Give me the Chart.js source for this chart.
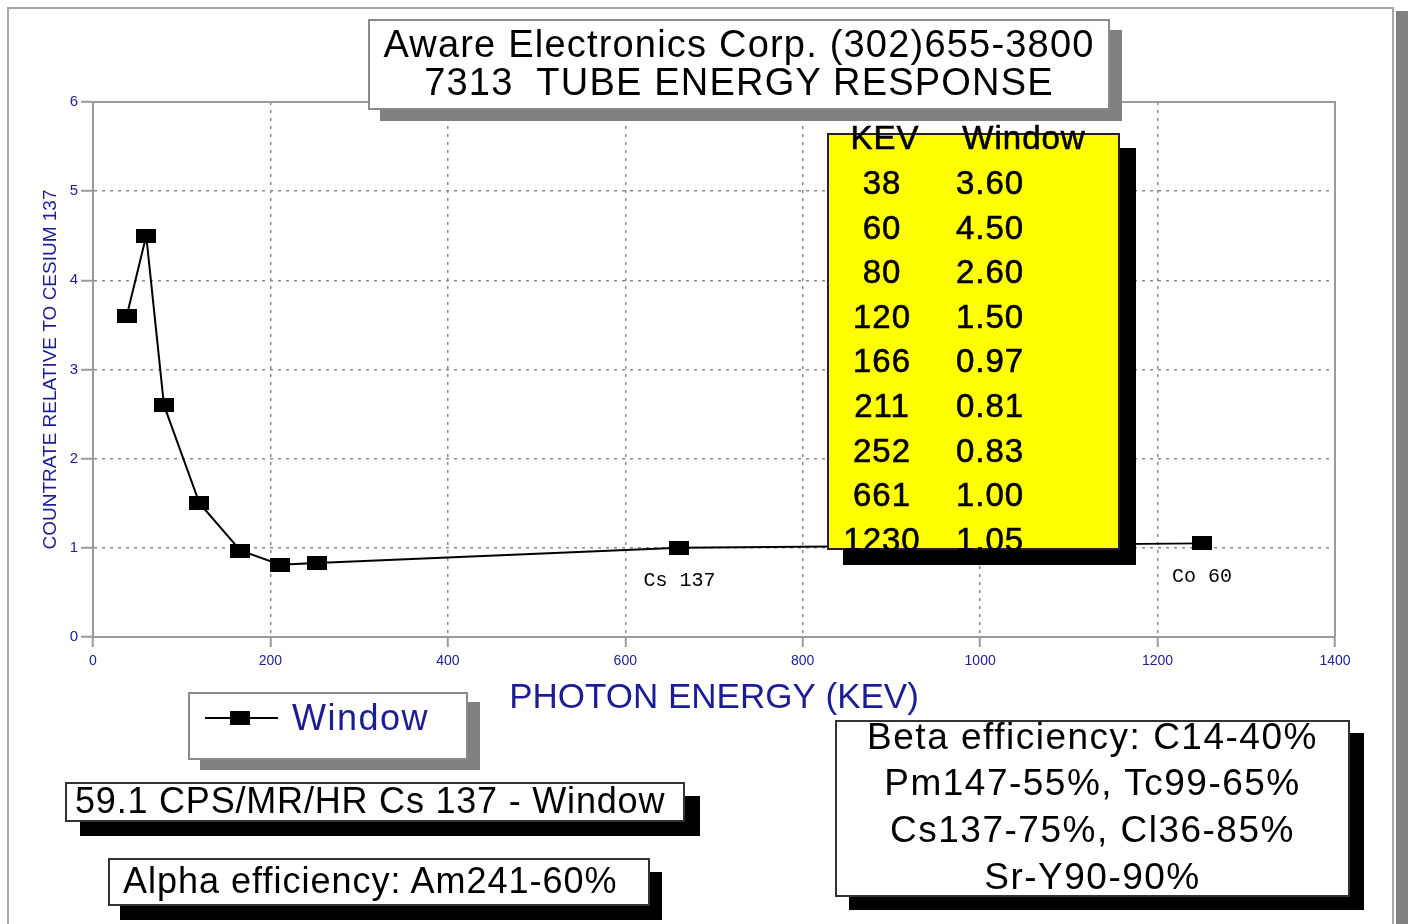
<!DOCTYPE html>
<html>
<head>
<meta charset="utf-8">
<script src="https://cdn.jsdelivr.net/npm/chart.js@4.4.0/dist/chart.umd.min.js"></script>
<style>
  body { margin: 0; width: 1408px; height: 924px; overflow: hidden; position: relative; background: #fff;
         font-family: "Liberation Sans", Arial, sans-serif; color: #000; }
  #frame { position: absolute; left: 7px; top: 7px; width: 1387px; height: 940px; border: 2px solid #a8a8a8; box-sizing: border-box; }
  #frameShadow { position: absolute; left: 1396px; top: 11px; width: 12px; height: 913px; background: #808080; }
  #chart { position: absolute; left: 0; top: 0; }
  .box { position: absolute; background: #fff; box-sizing: border-box; }
  .line { position: absolute; left: 0; right: 0; text-align: center; white-space: nowrap; }
  .cell { position: absolute; width: 140px; text-align: center; white-space: nowrap; }
</style>
</head>
<body>
<div id="frame"></div>
<div id="frameShadow"></div>
<canvas id="chart" width="1408" height="924"></canvas>

<!-- judul -->
<div class="box" style="left:368px;top:19px;width:742px;height:91px;border:2px solid #8a8a8a;box-shadow:12px 11px 0 #808080;font-size:38px;letter-spacing:1.2px;">
  <div class="line" style="top:4px;line-height:38px;">Aware Electronics Corp. (302)655-3800</div>
  <div class="line" style="top:42px;line-height:38px;">7313&nbsp; TUBE ENERGY RESPONSE</div>
</div>

<!-- tabel kuning -->
<div class="box" id="table" style="left:827px;top:133px;width:293px;height:417px;background:#ffff00;border:2px solid #222;box-shadow:16px 15px 0 #000;font-size:33px;letter-spacing:1px;-webkit-text-stroke:0.6px #000;"></div>

<!-- legenda -->
<div class="box" style="left:188px;top:692px;width:280px;height:68px;border:2px solid #8a8a8a;box-shadow:12px 10px 0 #808080;">
  <div style="position:absolute;left:15px;top:23px;width:73px;height:2px;background:#000;"></div>
  <div style="position:absolute;left:40px;top:17px;width:20px;height:14px;background:#000;"></div>
  <div id="legendText" style="position:absolute;left:102px;top:3px;line-height:42px;font-size:36px;letter-spacing:1.5px;color:#1c1c96;"></div>
</div>

<div class="box" style="left:65px;top:782px;width:620px;height:40px;border:2px solid #333;box-shadow:15px 14px 0 #000;font-size:36px;letter-spacing:0.8px;">
  <div style="position:absolute;left:8px;top:-3px;line-height:40px;white-space:nowrap;">59.1 CPS/MR/HR Cs 137 - Window</div>
</div>

<div class="box" style="left:108px;top:858px;width:542px;height:48px;border:2px solid #333;box-shadow:12px 14px 0 #000;font-size:36px;letter-spacing:1px;">
  <div style="position:absolute;left:13px;top:0px;line-height:42px;white-space:nowrap;">Alpha efficiency: Am241-60%</div>
</div>

<div class="box" style="left:835px;top:720px;width:515px;height:177px;border:2px solid #333;box-shadow:14px 13px 0 #000;font-size:37px;letter-spacing:1.5px;">
  <div class="line" style="top:-8px;line-height:46px;">Beta efficiency: C14-40%</div>
  <div class="line" style="top:38px;line-height:46px;">Pm147-55%, Tc99-65%</div>
  <div class="line" style="top:85px;line-height:46px;">Cs137-75%, Cl36-85%</div>
  <div class="line" style="top:132px;line-height:46px;">Sr-Y90-90%</div>
</div>

<script>
// Data grafik
const seriesName = "Window";
const energyKev = [38, 60, 80, 120, 166, 211, 252, 661, 1250];
const windowValues = [3.60, 4.50, 2.60, 1.50, 0.97, 0.81, 0.83, 1.00, 1.05];
const tableKev = ["38", "60", "80", "120", "166", "211", "252", "661", "1230"];
const xTicks = [0, 200, 400, 600, 800, 1000, 1200, 1400];
const yTicks = [0, 1, 2, 3, 4, 5, 6];
const noteLabels = ["Cs 137", "Co 60"];
const noteKev = [661, 1250];
const noteValues = [1.00, 1.05];

const blue = "#1c1c96";

// isi tabel kuning dari data
const table = document.getElementById("table");
function addCell(text, center, top) {
  const d = document.createElement("div");
  d.className = "cell";
  d.textContent = text;
  d.style.left = (center - 70) + "px";
  d.style.top = top + "px";
  d.style.lineHeight = "40px";
  table.appendChild(d);
}
addCell("KEV", 56, -17);
addCell(seriesName, 195, -17);
tableKev.forEach((k, i) => {
  const top = 28 + i * 44.6;
  addCell(k, 53, top);
  addCell(windowValues[i].toFixed(2), 161, top);
});
document.getElementById("legendText").textContent = seriesName;

// marker kotak hitam (lebih lebar dari tinggi)
const marker = document.createElement("canvas");
marker.width = 20;
marker.height = 14;
const mctx = marker.getContext("2d");
mctx.fillStyle = "#000";
mctx.fillRect(0, 0, 20, 14);

// garis bingkai atas/kanan dan label Cs/Co
const framePlugin = {
  id: "frame",
  beforeDatasetsDraw(chart) {
    const { ctx, chartArea: a } = chart;
    ctx.save();
    ctx.strokeStyle = "#9a9a9a";
    ctx.lineWidth = 2;
    ctx.setLineDash([]);
    ctx.beginPath();
    ctx.moveTo(a.left, a.top);
    ctx.lineTo(a.right, a.top);
    ctx.lineTo(a.right, a.bottom);
    ctx.stroke();
    ctx.restore();
  },
  afterDatasetsDraw(chart) {
    const { ctx, scales } = chart;
    ctx.save();
    ctx.fillStyle = "#000";
    ctx.font = '20px "Liberation Mono", monospace';
    ctx.textAlign = "center";
    ctx.textBaseline = "middle";
    noteLabels.forEach((t, i) => {
      const x = scales.x.getPixelForValue(noteKev[i]);
      const y = scales.y.getPixelForValue(noteValues[i]);
      ctx.fillText(t, x, y + 33);
    });
    ctx.restore();
  }
};

new Chart(document.getElementById("chart").getContext("2d"), {
  type: "line",
  data: {
    datasets: [{
      label: seriesName,
      data: energyKev.map((k, i) => ({ x: k, y: windowValues[i] })),
      borderColor: "#000",
      borderWidth: 2,
      backgroundColor: "#000",
      pointStyle: marker,
      tension: 0,
      fill: false,
    }],
  },
  options: {
    responsive: false,
    animation: false,
    layout: { padding: { left: 35, right: 73, top: 102, bottom: 204 } },
    plugins: { legend: { display: false }, tooltip: { enabled: false } },
    scales: {
      x: {
        type: "linear",
        min: 0,
        max: 1400,
        afterBuildTicks: (scale) => { scale.ticks = xTicks.map(v => ({ value: v })); },
        afterFit: (scale) => { scale.height = 83; scale.paddingLeft = 0; scale.paddingRight = 0; },
        ticks: { color: blue, font: { family: "Liberation Sans", size: 14 }, padding: 6, maxRotation: 0, callback: (v) => String(v) },
        grid: { color: "#8a8a8a", lineWidth: 1.5, tickLength: 10, tickColor: "#9a9a9a", tickWidth: 2, tickBorderDash: [] },
        border: { color: "#9a9a9a", width: 2, dash: [3, 5] },
        title: { display: true, text: "PHOTON ENERGY (KEV)", color: blue, font: { family: "Liberation Sans", size: 35 }, padding: { top: 4, bottom: 1 } },
      },
      y: {
        min: 0,
        max: 6,
        afterBuildTicks: (scale) => { scale.ticks = yTicks.map(v => ({ value: v })); },
        afterFit: (scale) => { scale.width = 58; scale.paddingTop = 0; scale.paddingBottom = 0; },
        ticks: { color: blue, font: { family: "Liberation Sans", size: 15 }, padding: 3, callback: (v) => String(v) },
        grid: { color: "#8a8a8a", lineWidth: 1.5, tickLength: 12, tickColor: "#9a9a9a", tickWidth: 2, tickBorderDash: [] },
        border: { color: "#9a9a9a", width: 2, dash: [3, 5] },
        title: { display: true, text: "COUNTRATE RELATIVE TO CESIUM 137", color: blue, font: { family: "Liberation Sans", size: 19 }, padding: { top: 4, bottom: 4 } },
      },
    },
  },
  plugins: [framePlugin],
});
</script>
</body>
</html>
